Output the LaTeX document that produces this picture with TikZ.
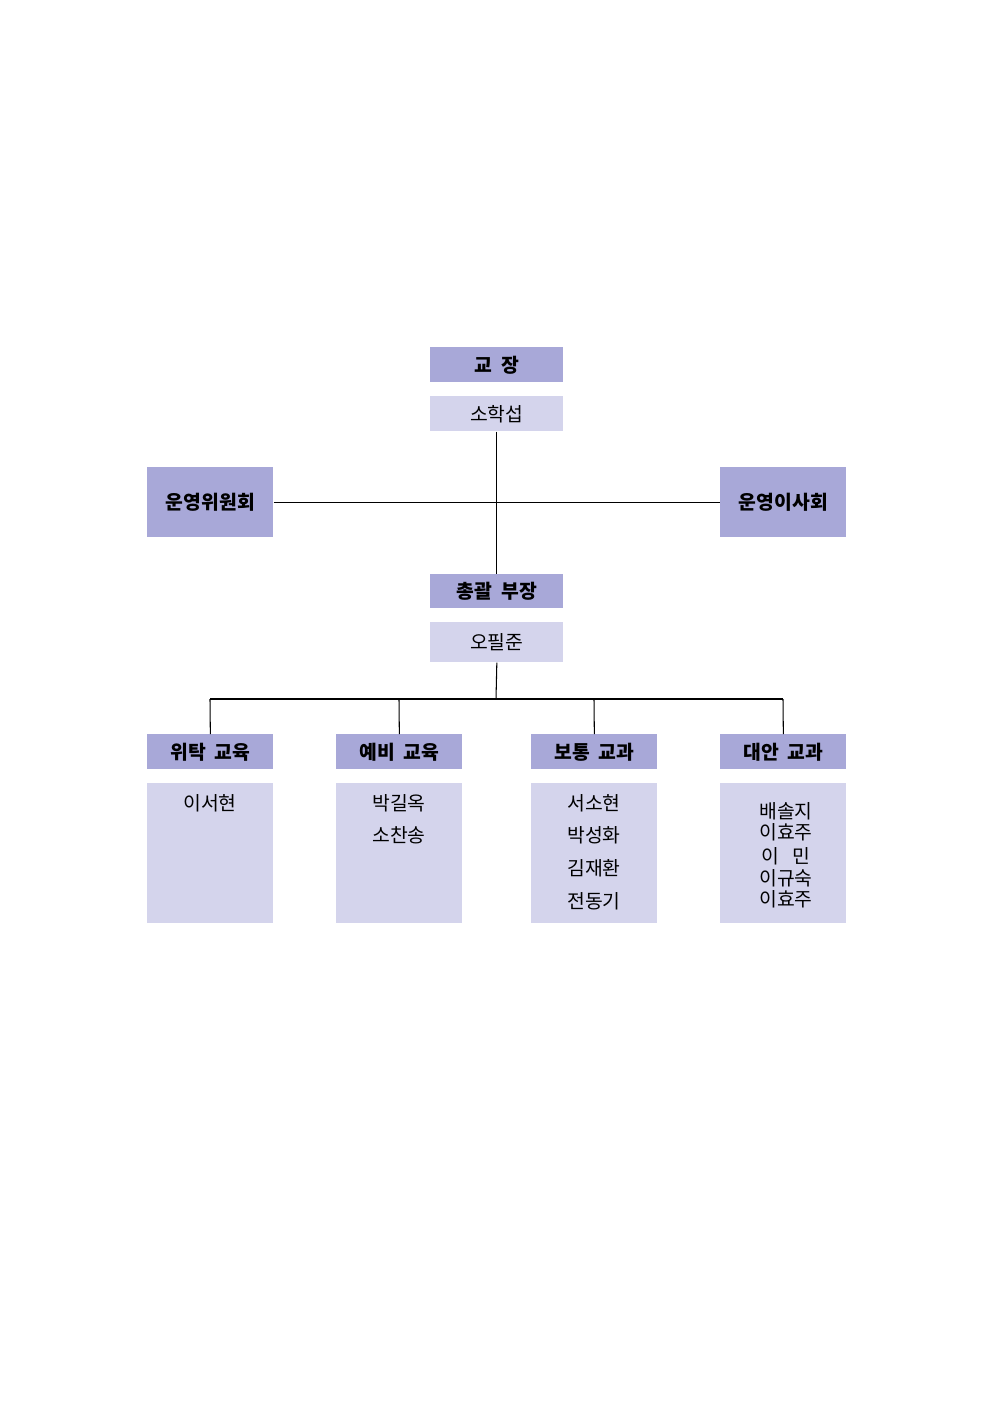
\documentclass[tikz,border=0pt]{standalone}
\usepackage{fontspec}
\setmainfont{Noto Sans CJK KR}
\usetikzlibrary{positioning}
\definecolor{headblue}{HTML}{A8A8D8}
\definecolor{bodyblue}{HTML}{D4D4EC}

\begin{document}
\begin{tikzpicture}[x=0.02cm, y=-0.02cm,
block/.style={rectangle, anchor=north west, inner sep=0pt, font=\fontsize{11}{13}\selectfont},
block-header/.style={block, fill=headblue, font=\fontsize{11}{13}\selectfont\bfseries},
block-body/.style={block, fill=bodyblue},
line/.style={draw, black, line width=0.6pt}
]
\useasboundingbox (0,0) rectangle (992,1403);

\node [block-header, minimum width=2.66cm, minimum height=0.70cm] (head) at (430,347) {교\ \ 장};
\node [block-body, minimum width=2.66cm, minimum height=0.70cm] (head-name) at (430,396) {소학섭};
\node [block-header, minimum width=2.52cm, minimum height=1.40cm] (comm) at (147,467) {운영위원회};
\node [block-header, minimum width=2.52cm, minimum height=1.40cm] (board) at (720,467) {운영이사회};
\node [block-header, minimum width=2.66cm, minimum height=0.68cm] (chief) at (430,574) {총괄\ \ 부장};
\node [block-body, minimum width=2.66cm, minimum height=0.80cm] (chief-name) at (430,622) {오필준};

\coordinate (mid) at (496,502);
\coordinate (split) at (496,699);

% departments
\foreach \x/\n/\t in {147/d1/위탁\ \ 교육, 336/d2/예비\ \ 교육, 531/d3/보통\ \ 교과, 720/d4/대안\ \ 교과} {
  \node [block-header, minimum width=2.52cm, minimum height=0.70cm] (\n) at (\x,734) {\t};
  \node [block-body, minimum width=2.52cm, minimum height=2.80cm] (\n-body) at (\x,783) {};
  \coordinate (\n-top) at (\x+63,699);
}

\node [font=\fontsize{11}{13}\selectfont] at (210,803) {이서현};
\node [font=\fontsize{11}{13}\selectfont, align=center] at (399,819) {박길옥\\[5pt]소찬송};
\node [font=\fontsize{11}{13}\selectfont, align=center] at (594,852) {서소현\\[5.5pt]박성화\\[5.5pt]김재환\\[5.5pt]전동기};
\node [font=\fontsize{11}{13}\selectfont, align=center] at (786,855) {배솔지\\[-1pt]이효주\\[1pt]이\ \ \ 민\\[-1pt]이규숙\\[-1pt]이효주};

\path [line] (head-name.south) -- (chief.north);
\path [line] (comm.east) -- (board.west);
\path [line] (chief-name.south) -- (split);
\path [line] (d1-top) -- (d4-top);
\foreach \n in {d1, d2, d3, d4}
  \path [line] (\n-top) -- (\n.north);

\end{tikzpicture}
\end{document}
